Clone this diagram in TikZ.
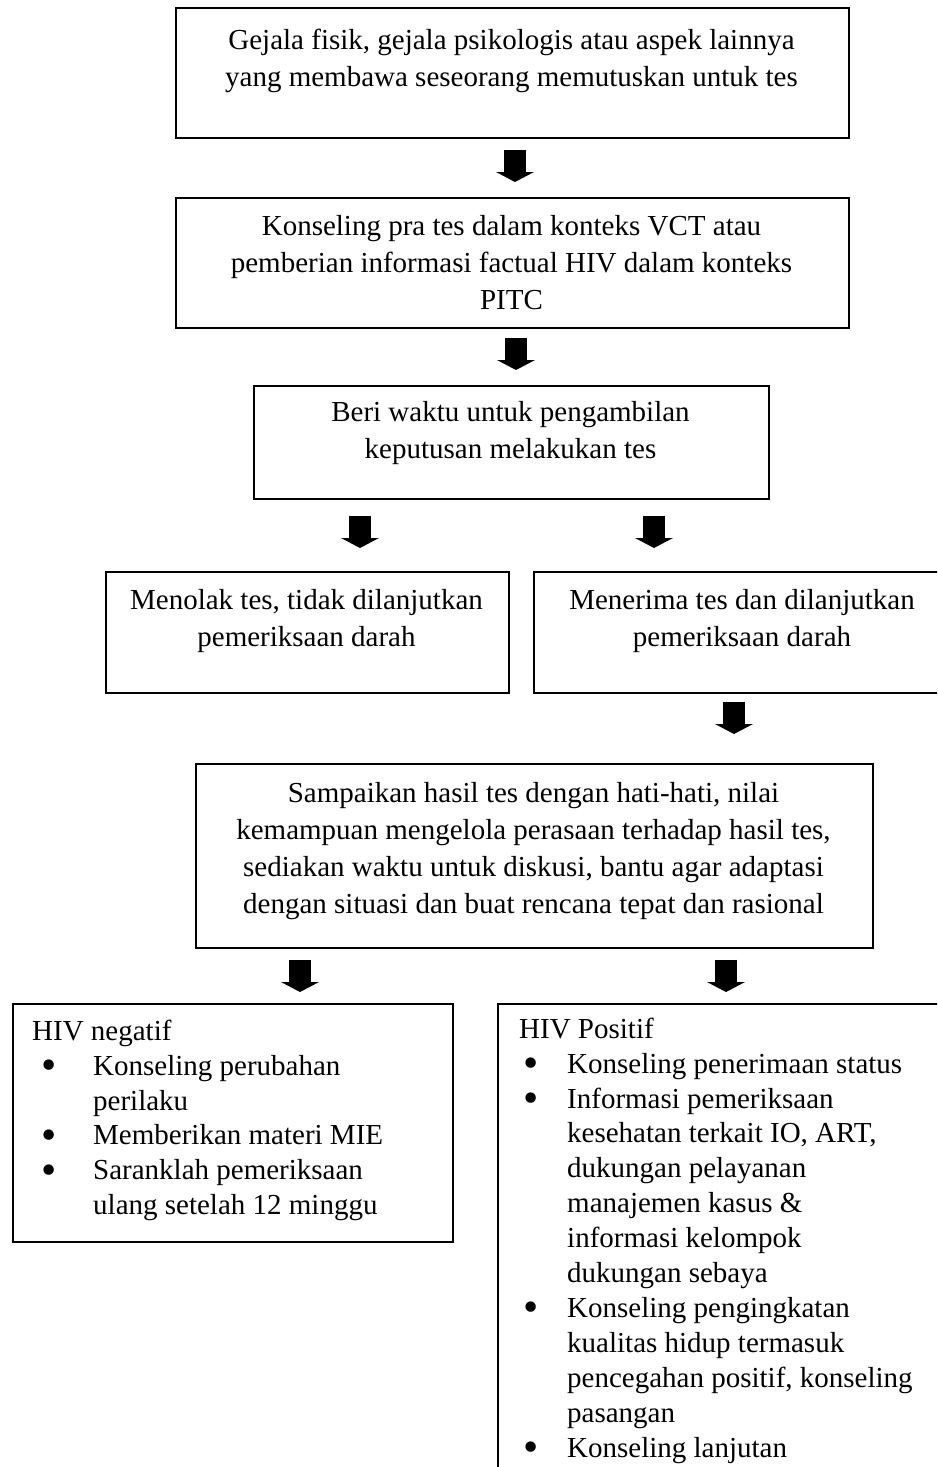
\documentclass[tikz,border=0pt]{standalone}
\usepackage{fontspec}
\setmainfont[Ligatures=NoCommon]{Liberation Serif}
\usetikzlibrary{arrows.meta}
\newcommand{\fstrut}{\rule{0pt}{22pt}}
\newcommand{\bigbul}{\smash{\raisebox{-4.5pt}{\scalebox{1.5}{\textbullet}}}}
\newcommand{\bulA}{\hspace*{9pt}\makebox[52pt][l]{\bigbul}}
\newcommand{\indA}{\hspace*{61pt}}
\newcommand{\bulB}{\hspace*{4pt}\makebox[44pt][l]{\bigbul}}
\newcommand{\indB}{\hspace*{48pt}}
\tikzset{
  box/.style={draw=black, line width=1.5pt, inner sep=0pt, anchor=north west},
  ctext/.style={inner sep=0pt, anchor=north, align=center, font=\fontsize{29}{37.2}\selectfont},
  ltext/.style={inner sep=0pt, anchor=north west, align=left, font=\fontsize{29}{34.9}\selectfont},
  barrow/.style={line width=22pt, line cap=butt, black,
    -{Triangle[width=38pt, length=10pt, line width=0pt]}}
}
\begin{document}
\begin{tikzpicture}[x=1pt, y=-1pt]
\useasboundingbox (0,0) rectangle (937,1467);
\clip (0,0) rectangle (937,1467);
% boxes
\node[box, minimum width=673pt, minimum height=130pt] (b1) at (175,7) {};
\node[box, minimum width=673pt, minimum height=130pt] (b2) at (175,197) {};
\node[box, minimum width=515pt, minimum height=113pt] (b3) at (253,385) {};
\node[box, minimum width=403pt, minimum height=121pt] (b4) at (105,571) {};
\node[box, minimum width=418pt, minimum height=121pt] (b5) at (533,571) {};
\node[box, minimum width=677pt, minimum height=184pt] (b6) at (195,763) {};
\node[box, minimum width=440pt, minimum height=238pt] (b7) at (12,1003) {};
\node[box, minimum width=500pt, minimum height=520pt] (b8) at (497,1003) {};
% texts
\node[ctext] (t1) at (511.5,27) {\fstrut Gejala fisik, gejala psikologis atau aspek lainnya\\yang membawa seseorang memutuskan untuk tes};
\node[ctext] (t2) at (511.5,213) {\fstrut Konseling pra tes dalam konteks VCT atau\\pemberian informasi factual HIV dalam konteks\\PITC};
\node[ctext] (t3) at (510.5,399) {\fstrut Beri waktu untuk pengambilan\\keputusan melakukan tes};
\node[ctext] (t4) at (306.5,587) {\fstrut Menolak tes, tidak dilanjutkan\\pemeriksaan darah};
\node[ctext] (t5) at (742,587) {\fstrut Menerima tes dan dilanjutkan\\pemeriksaan darah};
\node[ctext] (t6) at (533.5,780) {\fstrut Sampaikan hasil tes dengan hati-hati, nilai\\kemampuan mengelola perasaan terhadap hasil tes,\\sediakan waktu untuk diskusi, bantu agar adaptasi\\dengan situasi dan buat rencana tepat dan rasional};
\node[ltext] (t7) at (32,1018) {\fstrut HIV negatif\\
\bulA Konseling perubahan\\
\indA perilaku\\
\bulA Memberikan materi MIE\\
\bulA Saranklah pemeriksaan\\
\indA ulang setelah 12 minggu};
\node[ltext] (t8) at (519,1016) {\fstrut HIV Positif\\
\bulB Konseling penerimaan status\\
\bulB Informasi pemeriksaan\\
\indB kesehatan terkait IO, ART,\\
\indB dukungan pelayanan\\
\indB manajemen kasus \&\\
\indB informasi kelompok\\
\indB dukungan sebaya\\
\bulB Konseling pengingkatan\\
\indB kualitas hidup termasuk\\
\indB pencegahan positif, konseling\\
\indB pasangan\\
\bulB Konseling lanjutan};
% arrow columns
\coordinate (x1) at (515,0);
\coordinate (x2) at (516,0);
\coordinate (x3l) at (360,0);
\coordinate (x3r) at (654,0);
\coordinate (x4) at (734,0);
\coordinate (x5l) at (300,0);
\coordinate (x5r) at (726,0);
% arrows
\draw[barrow, shorten <=11pt, shorten >=15pt] (b1.south -| x1) -- (b2.north -| x1);
\draw[barrow, shorten <=9pt, shorten >=15pt] (b2.south -| x2) -- (b3.north -| x2);
\draw[barrow, shorten <=16pt, shorten >=23pt] (b3.south -| x3l) -- (b4.north -| x3l);
\draw[barrow, shorten <=16pt, shorten >=23pt] (b3.south -| x3r) -- (b5.north -| x3r);
\draw[barrow, shorten <=8pt, shorten >=29pt] (b5.south -| x4) -- (b6.north -| x4);
\draw[barrow, shorten <=11pt, shorten >=11pt] (b6.south -| x5l) -- (b7.north -| x5l);
\draw[barrow, shorten <=11pt, shorten >=11pt] (b6.south -| x5r) -- (b8.north -| x5r);
\end{tikzpicture}
\end{document}
